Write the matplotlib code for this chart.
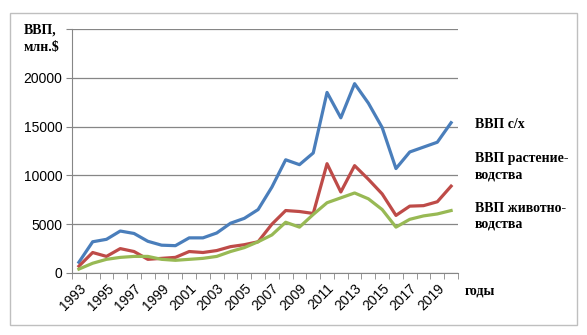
import matplotlib.pyplot as plt
import numpy as np
from matplotlib.patches import Rectangle

years = list(range(1993, 2021))
gdp_agri = [1100, 3200, 3450, 4300, 4050, 3250, 2850, 2800, 3600, 3600, 4100, 5100, 5600, 6500,
            8800, 11600, 11100, 12300, 18500, 15900, 19400, 17400, 14900, 10700, 12400, 12900, 13400, 15400]
gdp_crop = [700, 2100, 1700, 2500, 2200, 1400, 1500, 1600, 2200, 2100, 2300, 2700, 2900, 3200,
            5000, 6400, 6300, 6100, 11200, 8300, 11000, 9600, 8100, 5900, 6850, 6900, 7300, 8900]
gdp_livestock = [400, 1000, 1400, 1600, 1700, 1700, 1400, 1300, 1400, 1500, 1700, 2200, 2600, 3200,
                 3900, 5200, 4700, 6000, 7200, 7700, 8200, 7600, 6500, 4700, 5500, 5850, 6050, 6400]
labels = ["ВВП с/х", "ВВП растение-\nводства", "ВВП животно-\nводства"]
colors = ["#4A7EBB", "#BE4B48", "#98B954"]

plt.rcParams['font.family'] = ['Liberation Sans', 'DejaVu Sans']

fig = plt.figure(figsize=(5.87, 3.35), dpi=100)
W, H = 587, 335
ax = fig.add_axes([72 / W, 1 - 273 / H, (458 - 72) / W, (273 - 29) / H])

x = np.arange(len(years))
for series, c in zip([gdp_agri, gdp_crop, gdp_livestock], colors):
    ax.plot(x, series, color=c, lw=2.3, solid_joinstyle='round')

ax.set_xlim(-0.5, len(years) - 0.5)
ax.set_ylim(0, 25000)
ax.set_yticks([0, 5000, 10000, 15000, 20000, 25000])
ax.set_yticklabels(["0", "5000", "10000", "15000", "20000", ""], fontsize=10)
ax.yaxis.grid(True, color="#868686", lw=0.9)
ax.set_axisbelow(True)

ax.set_xticks(x[::2])
ax.set_xticklabels([str(y) for y in years[::2]], rotation=45, ha='right',
                   rotation_mode='anchor', fontsize=10)
ax.set_xticks(np.arange(-0.5, len(years), 1), minor=True)
ax.tick_params(axis='x', which='major', length=0, pad=6)
ax.tick_params(axis='x', which='minor', length=4, color="#868686")
ax.tick_params(axis='y', length=4, color="#868686", pad=3)

for s in ['top', 'right']:
    ax.spines[s].set_visible(False)
for s in ['left', 'bottom']:
    ax.spines[s].set_color("#868686")

serif = dict(family='Liberation Serif', fontweight='bold', fontsize=10)
fig.text(24 / W, 1 - 34 / H, "ВВП,", **serif, va='baseline')
fig.text(24 / W, 1 - 51 / H, "млн.$", **serif, va='baseline')
fig.text(475 / W, 1 - 125 / H, labels[0], **serif, va='center')
fig.text(475 / W, 1 - 167 / H, labels[1], **serif, va='center', linespacing=1.3)
fig.text(475 / W, 1 - 216 / H, labels[2], **serif, va='center', linespacing=1.3)
fig.text(465 / W, 1 - 291 / H, "годы", **serif, va='center')

fig.patches.append(Rectangle((10 / W, 1 - 325 / H), 567 / W, 312 / H, transform=fig.transFigure,
                             fill=False, edgecolor="#BFBFBF", lw=1))

plt.savefig("out.png", dpi=100)
